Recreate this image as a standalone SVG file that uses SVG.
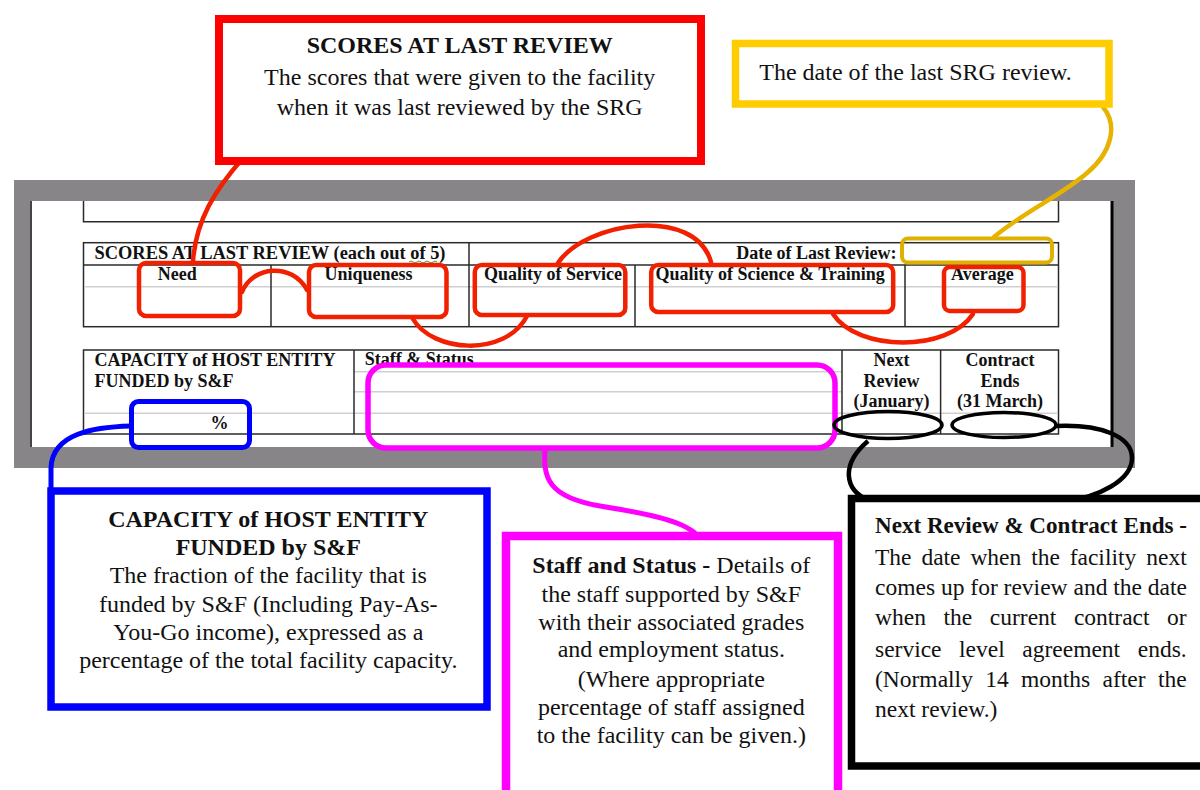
<svg xmlns="http://www.w3.org/2000/svg" width="1200" height="790" viewBox="0 0 1200 790">
<defs>
<style>
.tb{font-family:"Liberation Serif","Times New Roman",serif;font-weight:bold;font-size:18px;fill:#111}
.ct{font-family:"Liberation Serif","Times New Roman",serif;font-size:24px;fill:#111}
.bk{font-family:"Liberation Serif","Times New Roman",serif;font-size:23.5px;fill:#111}
.b{font-weight:bold}
.tl{fill:none;stroke:#2a2a2a;stroke-width:1.5}
.lg{fill:none;stroke:#cfcfcf;stroke-width:1.5}
.hr{fill:none;stroke:#f02000;stroke-width:4.5}
.cr{fill:none;stroke:#f02000;stroke-width:4.5;stroke-linecap:round}
</style>
</defs>
<rect width="1200" height="790" fill="#ffffff"/>

<g id="form">
<rect x="14" y="180" width="1121" height="288" fill="#878587"/>
<rect x="31" y="201" width="1082" height="246" fill="#ffffff"/>
<line x1="31" y1="201" x2="31" y2="447" stroke="#444" stroke-width="2"/>
<line x1="1112" y1="201" x2="1112" y2="447" stroke="#000" stroke-width="3"/>
<path class="tl" d="M83.5,201 V221.7 H1058.5 V201"/>
<rect class="tl" x="83.5" y="242.7" width="975" height="84"/>
<line class="tl" x1="83.5" y1="265" x2="1058.5" y2="265"/>
<line class="lg" x1="84" y1="286.7" x2="1058" y2="286.7"/>
<line class="tl" x1="271" y1="265" x2="271" y2="326.7"/>
<line class="tl" x1="469" y1="242.7" x2="469" y2="326.7"/>
<line class="tl" x1="635" y1="265" x2="635" y2="326.7"/>
<line class="tl" x1="905" y1="265" x2="905" y2="326.7"/>
<text class="tb" x="94.5" y="259" textLength="351" lengthAdjust="spacingAndGlyphs">SCORES AT LAST REVIEW (each out of 5)</text>
<path d="M409,262 q2,-2 4,0 t4,0 t4,0 t4,0 t4,0 t4,0 t4,0" fill="none" stroke="#3c9a3c" stroke-width="1"/>
<text class="tb" x="896.6" y="259" text-anchor="end">Date of Last Review:</text>
<text class="tb" x="157.7" y="280">Need</text>
<text class="tb" x="324.5" y="280">Uniqueness</text>
<text class="tb" x="484" y="280">Quality of Service</text>
<text class="tb" x="655.5" y="280">Quality of Science &amp; Training</text>
<text class="tb" x="951" y="280">Average</text>
<rect class="tl" x="83.5" y="350" width="975" height="84"/>
<line class="lg" x1="354" y1="371.7" x2="842" y2="371.7"/>
<line class="lg" x1="354" y1="391.7" x2="842" y2="391.7"/>
<line class="lg" x1="84" y1="413.3" x2="1058" y2="413.3"/>
<line class="tl" x1="354" y1="350" x2="354" y2="434"/>
<line class="tl" x1="842" y1="350" x2="842" y2="434"/>
<line class="tl" x1="940.6" y1="350" x2="940.6" y2="434"/>
<text class="tb" x="94.5" y="366" textLength="241" lengthAdjust="spacingAndGlyphs">CAPACITY of HOST ENTITY</text>
<text class="tb" x="94.5" y="387">FUNDED by S&amp;F</text>
<text class="tb" x="210.5" y="428.7">%</text>
<text class="tb" x="364.7" y="365">Staff &amp; Status</text>
<text class="tb" x="891.6" y="366" text-anchor="middle">Next</text>
<text class="tb" x="891.6" y="387" text-anchor="middle">Review</text>
<text class="tb" x="891.6" y="407" text-anchor="middle">(January)</text>
<text class="tb" x="1000" y="366" text-anchor="middle">Contract</text>
<text class="tb" x="1000" y="387" text-anchor="middle">Ends</text>
<text class="tb" x="1000" y="407" text-anchor="middle">(31 March)</text>
</g>

<g id="highlights">
<rect class="hr" x="139" y="263" width="101" height="53" rx="7"/>
<rect class="hr" x="309" y="265" width="137.5" height="52" rx="7"/>
<rect class="hr" x="474.8" y="265" width="150.5" height="50" rx="7"/>
<rect class="hr" x="651.2" y="265" width="242" height="47" rx="7"/>
<rect class="hr" x="944" y="267" width="79.5" height="44" rx="6"/>
<rect x="902" y="238.5" width="150" height="24" rx="6" fill="none" stroke="#e0b000" stroke-width="4"/>
<rect x="131.5" y="401.5" width="118" height="46" rx="7" fill="none" stroke="#0000ff" stroke-width="5"/>
<rect x="368" y="365" width="467" height="83" rx="18" fill="none" stroke="#ff00ff" stroke-width="5.5"/>
<ellipse cx="888" cy="425" rx="54" ry="13.5" fill="none" stroke="#000" stroke-width="3.5"/>
<ellipse cx="1004" cy="425" rx="52" ry="12.5" fill="none" stroke="#000" stroke-width="3.5"/>
</g>

<g id="connectors">
<path class="cr" d="M243,158 C215,190 196,220 193,261"/>
<path class="cr" d="M242,292 C252,266 292,262 307,290"/>
<path class="cr" d="M413,319 C432,352 505,358 527,316"/>
<path class="cr" d="M558,263 C585,222 695,205 711,262"/>
<path class="cr" d="M833,314 C858,352 948,352 973,314"/>
<path d="M1103,107 C1118,125 1112,152 1087,173 C1062,195 1022,213 994,237" fill="none" stroke="#e6b400" stroke-width="4.5" stroke-linecap="round"/>
<path d="M131,426 C95,427 52,433 51,468 L51,490" fill="none" stroke="#0000ff" stroke-width="5"/>
<path d="M545,449 C543,478 548,497 600,506 C650,514 682,521 696,534" fill="none" stroke="#ff00ff" stroke-width="5"/>
<path d="M1056,426 C1100,424 1132,436 1132,458 C1132,480 1100,497 1060,503 C1000,512 900,512 868,500 C845,490 840,465 868,441" fill="none" stroke="#000" stroke-width="4.5"/>
</g>

<g id="scores-callout">
<rect x="219" y="19" width="482" height="142" fill="#ffffff" stroke="#ff0000" stroke-width="8"/>
<text class="ct b" x="459.7" y="53.3" text-anchor="middle">SCORES AT LAST REVIEW</text>
<text class="ct" x="459.7" y="85" text-anchor="middle">The scores that were given to the facility</text>
<text class="ct" x="459.7" y="115" text-anchor="middle">when it was last reviewed by the SRG</text>
</g>

<g id="date-callout">
<rect x="735.5" y="43.5" width="373.5" height="60.5" fill="#ffffff" stroke="#ffcc00" stroke-width="7.5"/>
<text class="ct" x="759.3" y="80">The date of the last SRG review.</text>
</g>

<g id="capacity-callout">
<rect x="51" y="491" width="436" height="216" fill="#ffffff" stroke="#0000ff" stroke-width="7.5"/>
<text class="ct b" x="268.3" y="526.7" text-anchor="middle">CAPACITY of HOST ENTITY</text>
<text class="ct b" x="268.3" y="555" text-anchor="middle">FUNDED by S&amp;F</text>
<text class="ct" x="268.3" y="583.3" text-anchor="middle">The fraction of the facility that is</text>
<text class="ct" x="268.3" y="611.7" text-anchor="middle">funded by S&amp;F (Including Pay-As-</text>
<text class="ct" x="268.3" y="640" text-anchor="middle">You-Go income), expressed as a</text>
<text class="ct" x="268.3" y="668.3" text-anchor="middle">percentage of the total facility capacity.</text>
</g>

<g id="staff-callout">
<rect x="506" y="536" width="332" height="275" fill="#ffffff" stroke="#ff00ff" stroke-width="8.5"/>
<text class="ct" x="671.3" y="572.7" text-anchor="middle"><tspan class="b">Staff and Status -</tspan> Details of</text>
<text class="ct" x="671.3" y="601.7" text-anchor="middle">the staff supported by S&amp;F</text>
<text class="ct" x="671.3" y="630" text-anchor="middle">with their associated grades</text>
<text class="ct" x="671.3" y="657.3" text-anchor="middle">and employment status.</text>
<text class="ct" x="671.3" y="686.7" text-anchor="middle">(Where appropriate</text>
<text class="ct" x="671.3" y="715" text-anchor="middle">percentage of staff assigned</text>
<text class="ct" x="671.3" y="742.7" text-anchor="middle">to the facility can be given.)</text>
</g>

<g id="review-callout">
<rect x="851.5" y="498.5" width="360" height="267.5" fill="#ffffff" stroke="#000000" stroke-width="7.5"/>
<text class="bk b" x="875" y="533.3" textLength="312" lengthAdjust="spacingAndGlyphs">Next Review &amp; Contract Ends -</text>
<text class="bk" y="565"><tspan x="875">The</tspan><tspan x="921.4">date</tspan><tspan x="970.4">when</tspan><tspan x="1031.2">the</tspan><tspan x="1069.7">facility</tspan><tspan x="1186.7" text-anchor="end">next</tspan></text>
<text class="bk" x="875" y="595" textLength="312" lengthAdjust="spacing">comes up for review and the date</text>
<text class="bk" y="625"><tspan x="875">when</tspan><tspan x="943.5">the</tspan><tspan x="989.8">current</tspan><tspan x="1073.9">contract</tspan><tspan x="1186.7" text-anchor="end">or</tspan></text>
<text class="bk" y="656.7"><tspan x="875">service</tspan><tspan x="959.1">level</tspan><tspan x="1022.3">agreement</tspan><tspan x="1186.7" text-anchor="end">ends.</tspan></text>
<text class="bk" y="686.7"><tspan x="875">(Normally</tspan><tspan x="985.2">14</tspan><tspan x="1021">months</tspan><tspan x="1102.5">after</tspan><tspan x="1186.7" text-anchor="end">the</tspan></text>
<text class="bk" x="875" y="717.3">next review.)</text>
</g>
</svg>
